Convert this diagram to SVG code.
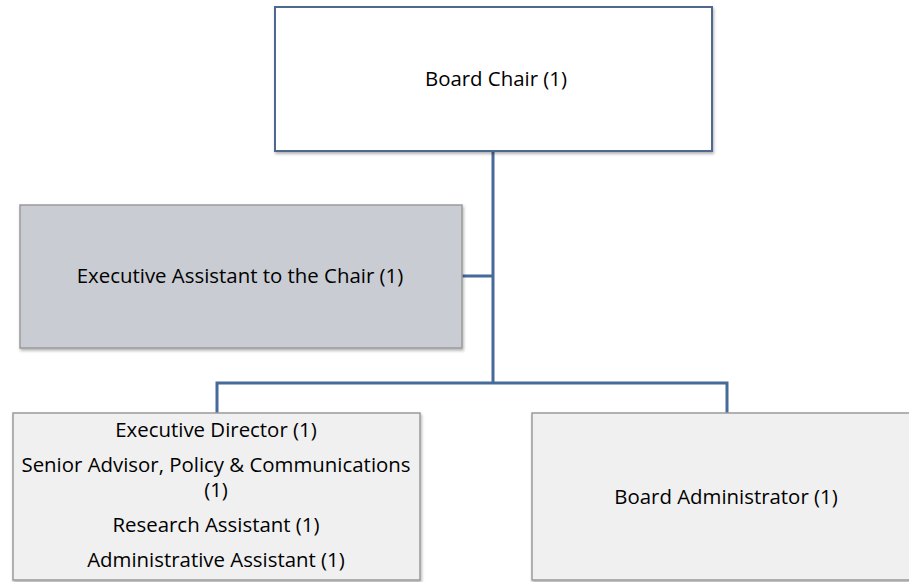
<svg xmlns="http://www.w3.org/2000/svg" width="909" height="582" viewBox="0 0 909 582">
<defs>
<filter id="sh" x="-5%" y="-5%" width="110%" height="115%">
<feDropShadow dx="1" dy="2" stdDeviation="1.5" flood-color="#000" flood-opacity="0.3"/>
</filter>
<style>
.t{font-family:"Open Sans","Liberation Sans",Arial,sans-serif;font-size:20.4px;fill:#000;text-anchor:middle}
.c{fill:none;stroke:#466a9a;stroke-width:3}
</style>
</defs>
<rect width="909" height="582" fill="#fff"/>
<g id="connectors">
<path class="c" d="M493 151V383M462 276H493M217 413V383H727V413"/>
</g>
<g id="board-chair">
<rect x="275" y="7" width="437" height="144" fill="#fff" stroke="#4f6890" stroke-width="2" filter="url(#sh)"/>
<text class="t" x="496" y="86">Board Chair (1)</text>
</g>
<g id="exec-assistant">
<rect x="20" y="205" width="442" height="143" fill="#c9ccd3" stroke="#9a9a9a" stroke-width="1.5" filter="url(#sh)"/>
<text class="t" x="240" y="283">Executive Assistant to the Chair (1)</text>
</g>
<g id="exec-director">
<rect x="13" y="413" width="407" height="167" fill="#f0f0f0" stroke="#9a9a9a" stroke-width="1.5" filter="url(#sh)"/>
<text class="t" x="216" y="437">Executive Director (1)</text>
<text class="t" x="216" y="472">Senior Advisor, Policy &amp; Communications</text>
<text class="t" x="216" y="497">(1)</text>
<text class="t" x="216" y="532">Research Assistant (1)</text>
<text class="t" x="216" y="567">Administrative Assistant (1)</text>
</g>
<g id="board-admin">
<rect x="532" y="413" width="390" height="167" fill="#f0f0f0" stroke="#9a9a9a" stroke-width="1.5" filter="url(#sh)"/>
<text class="t" x="726" y="504">Board Administrator (1)</text>
</g>
</svg>
